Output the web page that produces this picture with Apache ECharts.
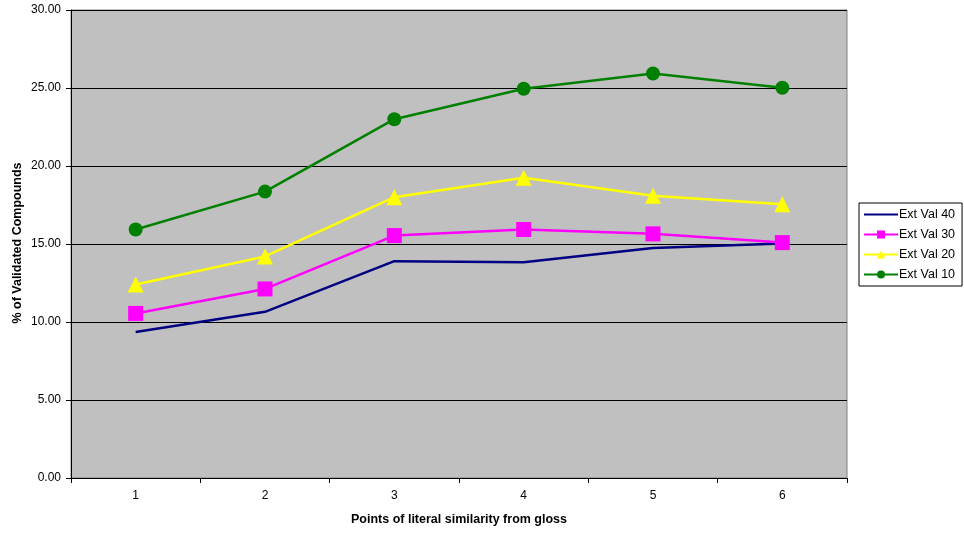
<!DOCTYPE html>
<html>
<head>
<meta charset="utf-8">
<script src="https://cdn.jsdelivr.net/npm/echarts@6/dist/echarts.min.js"></script>
<style>
  html, body { margin: 0; padding: 0; background: #fff; }
  #chart { width: 964px; height: 533px; }
</style>
</head>
<body>
<div id="chart"></div>
<script>
// Points of literal similarity (x axis categories)
const categories = ['1', '2', '3', '4', '5', '6'];

// % of validated compounds per external validation set
const extVal40 = [9.36, 10.65, 13.90, 13.83, 14.75, 15.03];
const extVal30 = [10.55, 12.12, 15.54, 15.93, 15.65, 15.09];
const extVal20 = [12.40, 14.20, 18.00, 19.24, 18.10, 17.55];
const extVal10 = [15.93, 18.36, 23.00, 24.95, 25.93, 25.02];

const seriesNames = ['Ext Val 40', 'Ext Val 30', 'Ext Val 20', 'Ext Val 10'];
const yTitle = '% of Validated Compounds';
const xTitle = 'Points of literal similarity from gloss';

const chart = echarts.init(document.getElementById('chart'), null, { renderer: 'canvas' });

const font = 'Arial, "Liberation Sans", sans-serif';

function lineSeries(name, data, color, symbol, size, width) {
  return {
    name: name,
    type: 'line',
    data: data,
    symbol: symbol,
    symbolSize: size,
    showSymbol: symbol !== 'none',
    lineStyle: { color: color, width: width },
    itemStyle: { color: color, borderWidth: 0 },
    emphasis: { disabled: true },
    animation: false,
    z: 3
  };
}

chart.setOption({
  backgroundColor: '#ffffff',
  animation: false,
  grid: {
    left: 71, right: 117, top: 10, bottom: 55,
    outerBoundsMode: 'none',
    show: true,
    backgroundColor: '#c0c0c0',
    borderColor: '#808080',
    borderWidth: 1
  },
  // vertical value-axis title, placed beside the tick labels
  graphic: [{
    type: 'text',
    x: 18, y: 243,
    rotation: Math.PI / 2,
    style: {
      text: yTitle,
      fontFamily: font, fontSize: 12.5, fontWeight: 'bold', fill: '#000',
      align: 'center', verticalAlign: 'middle'
    }
  }],
  legend: {
    orient: 'vertical',
    left: 859, top: 203,
    padding: [5, 7, 5, 4],
    itemGap: 7,
    itemWidth: 34,
    itemHeight: 10,
    backgroundColor: '#ffffff',
    borderColor: '#000000',
    borderWidth: 1,
    borderRadius: 0,
    textStyle: { fontFamily: font, fontSize: 12.5, color: '#000', padding: [0, 0, 0, -4] },
    data: [
      // the plain line series has no marker in its key
      { name: 'Ext Val 40', itemStyle: { opacity: 0 } },
      'Ext Val 30', 'Ext Val 20', 'Ext Val 10'
    ]
  },
  xAxis: {
    type: 'category',
    data: categories,
    boundaryGap: true,
    name: xTitle,
    nameLocation: 'middle',
    nameGap: 35,
    nameTextStyle: { fontFamily: font, fontSize: 12.5, fontWeight: 'bold', color: '#000' },
    axisLine: { show: true, lineStyle: { color: '#000', width: 1 } },
    axisTick: { show: true, inside: false, length: 5, lineStyle: { color: '#000' } },
    axisLabel: { fontFamily: font, fontSize: 12, color: '#000', margin: 12 },
    splitLine: { show: false }
  },
  yAxis: {
    type: 'value',
    min: 0, max: 30, interval: 5,
    axisLine: { show: true, lineStyle: { color: '#000', width: 1 } },
    axisTick: { show: true, inside: false, length: 5, lineStyle: { color: '#000' } },
    axisLabel: {
      fontFamily: font, fontSize: 12, color: '#000', margin: 10,
      formatter: v => v.toFixed(2)
    },
    splitLine: { show: true, lineStyle: { color: '#000', width: 1 } }
  },
  series: [
    lineSeries('Ext Val 40', extVal40, '#000080', 'none', 0, 2.5),
    lineSeries('Ext Val 30', extVal30, '#ff00ff', 'rect', 15, 2.5),
    lineSeries('Ext Val 20', extVal20, '#ffff00', 'triangle', 16, 2.5),
    lineSeries('Ext Val 10', extVal10, '#008000', 'circle', 14, 2.5)
  ]
});
</script>
</body>
</html>
